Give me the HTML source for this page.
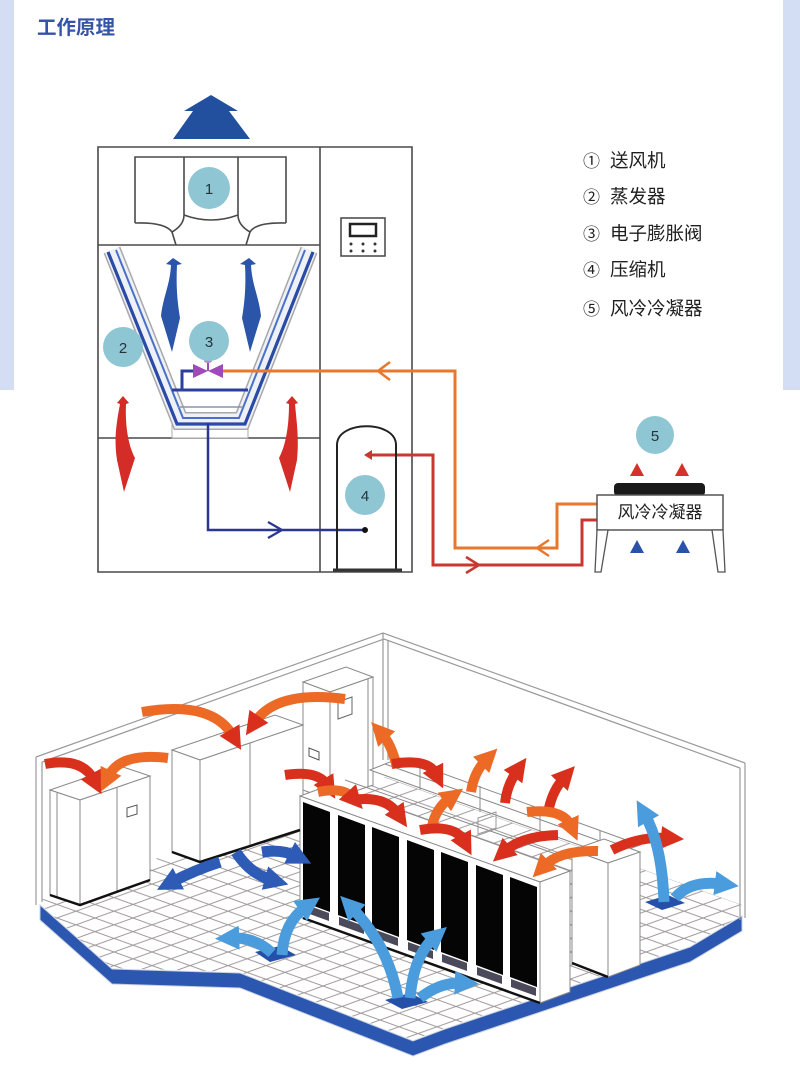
<!DOCTYPE html>
<html><head><meta charset="utf-8"><style>
html,body{margin:0;padding:0;background:#fff;}
body{width:800px;height:1077px;overflow:hidden;position:relative;}
svg{position:absolute;left:0;top:0;}
</style></head><body>
<svg width="800" height="1077" viewBox="0 0 800 1077" xmlns="http://www.w3.org/2000/svg">
<defs>
 <pattern id="grid" width="38" height="13.6" patternUnits="userSpaceOnUse">
   <path d="M0,0 L38,13.6 M0,13.6 L38,0" stroke="#9b9595" stroke-width="1" fill="none"/>
 </pattern>
 <marker id="hr" viewBox="0 0 10 10" refX="3" refY="5" markerWidth="2.3" markerHeight="2.3" orient="auto"><path d="M0,0 L10,5 L0,10 Z" fill="#d9301e"/></marker>
 <marker id="ho" viewBox="0 0 10 10" refX="3" refY="5" markerWidth="2.3" markerHeight="2.3" orient="auto"><path d="M0,0 L10,5 L0,10 Z" fill="#ec6a26"/></marker>
 <marker id="hl" viewBox="0 0 10 10" refX="3" refY="5" markerWidth="2.2" markerHeight="2.2" orient="auto"><path d="M0,0 L10,5 L0,10 Z" fill="#4b9cdc"/></marker>
 <marker id="hd" viewBox="0 0 10 10" refX="3" refY="5" markerWidth="2.2" markerHeight="2.2" orient="auto"><path d="M0,0 L10,5 L0,10 Z" fill="#2d5bb5"/></marker>
</defs>
<rect width="800" height="1077" fill="#fff"/>
<rect x="0" y="0" width="14" height="390" fill="#d3def4"/>
<rect x="783" y="0" width="17" height="390" fill="#d3def4"/>
<text x="37" y="34" font-family="'Liberation Sans','Noto Sans CJK SC',sans-serif" font-weight="bold" font-size="19.5" fill="#3554a6">工作原理</text>

<!-- top arrow -->
<polygon points="211,95 238,111 229,111 250,139 173,139 193,111 184,111" fill="#234f9f"/>

<!-- unit outline -->
<g stroke="#4a4a4a" stroke-width="1.6" fill="none">
 <path d="M98,147 H412 V572 H98 Z"/>
 <path d="M320,147 V572"/>
 <path d="M98,245 H320"/>
 <path d="M98,438 H320"/>
 <path d="M135,223 V157 H286 V223"/>
 <path d="M184,157 V215 M238,157 V215"/>
 <path d="M184,215 Q211,225 238,215"/>
 <path d="M135,223 Q165,222 172,232 L176,245"/>
 <path d="M184,215 Q184,225 172,232"/>
 <path d="M286,223 Q256,222 250,232 L246,245"/>
 <path d="M238,215 Q238,225 250,232"/>
</g>
<!-- controller -->
<rect x="341" y="218" width="44" height="38" fill="#fff" stroke="#444" stroke-width="1.5"/>
<rect x="350" y="224" width="26" height="12" fill="none" stroke="#222" stroke-width="2.5"/>
<g fill="#333"><circle cx="351" cy="244" r="1.5"/><circle cx="363" cy="244" r="1.5"/><circle cx="375" cy="244" r="1.5"/><circle cx="351" cy="251" r="1.5"/><circle cx="363" cy="251" r="1.5"/><circle cx="375" cy="251" r="1.5"/></g>

<!-- evaporator -->
<rect x="172" y="421" width="76" height="17" fill="#fff" stroke="#aaa" stroke-width="1"/>
<path d="M112,250 L180,421 L242,421 L309,250" fill="none" stroke="#a8a8a8" stroke-width="18"/>
<path d="M112,250 L180,421 L242,421 L309,250" fill="none" stroke="#eef2f7" stroke-width="15"/>
<path d="M108,252 L177,424 L245,424 L313,252" fill="none" stroke="#2a4aa5" stroke-width="3.2"/>
<path d="M116,250 L183,418 L239,418 L305,250" fill="none" stroke="#4a70c8" stroke-width="2"/>
<path d="M178,407 H243" stroke="#8a94b0" stroke-width="1.5"/>
<path d="M172,390 H248" stroke="#2c3f9f" stroke-width="3"/>
<path d="M200,371 H182 V390" fill="none" stroke="#2c3f9f" stroke-width="3"/>

<!-- pipes -->
<path d="M222,371 H455 V548 H557 V504 H597" fill="none" stroke="#e8782e" stroke-width="3"/>
<path d="M390,362 L378,371 L390,380" fill="none" stroke="#e8782e" stroke-width="2.5"/>
<path d="M549,540 L537,548 L549,556" fill="none" stroke="#e8782e" stroke-width="2.5"/>
<path d="M368,455 H433 V565 H582 V520 H597" fill="none" stroke="#c83830" stroke-width="3"/>
<path d="M466,557 L479,565 L466,573" fill="none" stroke="#c83830" stroke-width="2.5"/>
<polygon points="364,455 372,450 372,460" fill="#c83830"/>
<path d="M208,423 V530 H365" fill="none" stroke="#2b3592" stroke-width="2.5"/>
<path d="M268,522 L282,530 L268,538" fill="none" stroke="#2b3592" stroke-width="2.2"/>
<circle cx="365" cy="530" r="3" fill="#111"/>

<!-- valve -->
<polygon points="193,364 208,371 193,378" fill="#a04ab8"/>
<polygon points="223,364 208,371 223,378" fill="#a04ab8"/>
<line x1="208" y1="371" x2="208" y2="362" stroke="#a04ab8" stroke-width="2"/>
<ellipse cx="208" cy="361" rx="4" ry="2" fill="#b88ac8"/>

<!-- air arrows -->
<path d="M173,258 L166,264 L171,265 C170,285 163,297 161,316 L172,352 L180,318 C177,300 176,285 177,265 L182,264 Z" fill="#2a55a8"/>
<path d="M249,258 L256,264 L251,265 C252,285 259,297 261,316 L250,352 L242,318 C245,300 246,285 245,265 L240,264 Z" fill="#2a55a8"/>
<path d="M123,396 L117,403 L120,404 C116,425 114,440 117,460 L124,492 L135,458 C128,445 125,425 126,404 L129,403 Z" fill="#d42c26"/>
<path d="M292,396 L286,403 L289,404 C289,425 286,445 279,458 L290,492 L297,460 C299,440 297,425 295,404 L298,403 Z" fill="#d42c26"/>

<!-- compressor -->
<path d="M337,570 V445 C337,420 396,420 396,445 V570" fill="none" stroke="#222" stroke-width="2"/>
<line x1="333" y1="570" x2="402" y2="570" stroke="#333" stroke-width="3"/>

<!-- circles -->
<g fill="#8ec6d3">
 <circle cx="209" cy="188" r="21"/>
 <circle cx="123" cy="347" r="20"/>
 <circle cx="209" cy="341" r="20"/>
 <circle cx="365" cy="495" r="20"/>
 <circle cx="655" cy="435" r="19"/>
</g>
<g font-family="'Liberation Sans',sans-serif" font-size="15" fill="#24343a" text-anchor="middle">
 <text x="209" y="194">1</text>
 <text x="123" y="353">2</text>
 <text x="209" y="347">3</text>
 <text x="365" y="501">4</text>
 <text x="655" y="441">5</text>
</g>

<!-- condenser -->
<rect x="614" y="483" width="91" height="13" rx="4" fill="#1a1a1a"/>
<rect x="597" y="495" width="126" height="35" fill="#fff" stroke="#555" stroke-width="1.5"/>
<polygon points="597,530 608,530 601,572 595,572" fill="#fff" stroke="#555" stroke-width="1.3"/>
<polygon points="712,530 723,530 725,572 718,572" fill="#fff" stroke="#555" stroke-width="1.3"/>
<text x="660" y="518" text-anchor="middle" font-family="'Liberation Sans','Noto Sans CJK SC',sans-serif" font-size="17" fill="#222">风冷冷凝器</text>
<g fill="#d6302a">
 <polygon points="637,463 644,476 630,476"/><polygon points="682,463 689,476 675,476"/>
</g>
<g fill="#2a52a8">
 <polygon points="637,540 644,553 630,553"/><polygon points="683,540 690,553 676,553"/>
</g>

<!-- legend -->
<g font-family="'Liberation Sans','Noto Sans CJK SC',sans-serif" fill="#1f1f1f">
 <text x="583" y="167" font-size="17">①</text><text x="610" y="167" font-size="18.5">送风机</text>
 <text x="583" y="203" font-size="17">②</text><text x="610" y="203" font-size="18.5">蒸发器</text>
 <text x="583" y="240" font-size="17">③</text><text x="610" y="240" font-size="18.5">电子膨胀阀</text>
 <text x="583" y="276" font-size="17">④</text><text x="610" y="276" font-size="18.5">压缩机</text>
 <text x="583" y="315" font-size="17">⑤</text><text x="610" y="315" font-size="18.5">风冷冷凝器</text>
</g>

<!-- ================= ROOM ================= -->
<polygon points="40,900 385,777 742,905 742,915 690,946 445,1028 413,1040 240,972 112,968 40,904" fill="#fff"/>
<polygon points="40,900 385,777 742,905 742,915 690,946 445,1028 413,1040 240,972 112,968 40,904" fill="url(#grid)"/>
<polygon points="40,905 112,969 240,973 413,1041 445,1029 690,947 742,916 742,931 690,962 445,1044 413,1056 240,988 112,984 40,920" fill="#2b57b0" stroke="#c8d0e0" stroke-width="1"/>

<g stroke="#9a9a9a" stroke-width="1.2" fill="none">
 <path d="M36,757 L383,633 L745,763"/>
 <path d="M42,762 L384,639 L740,768"/>
 <path d="M36,757 V905 M42,762 V902"/>
 <path d="M383,633 V760 M388,640 V760"/>
 <path d="M745,763 V918 M740,768 V920"/>
</g>

<g fill="#fff" stroke="#8a8a8a" stroke-width="1">
 <!-- unit L -->
 <polygon points="50,790 120,766 150,776 80,800"/>
 <polygon points="50,790 80,800 80,905 50,895"/>
 <polygon points="80,800 150,776 150,880 80,905"/>
 <line x1="117" y1="788" x2="117" y2="893"/>
 <line x1="57" y1="793" x2="57" y2="897"/>
 <polygon points="127,808 137,805 137,814 127,817" fill="none" stroke="#555"/>
 <!-- unit 3 -->
 <polygon points="303,682 346,667 373,677 330,692"/>
 <polygon points="303,682 330,692 330,800 303,790"/>
 <polygon points="330,692 373,677 373,785 330,800"/>
 <line x1="368" y1="679" x2="368" y2="787"/>
 <polygon points="338,702 352,697 352,714 338,719" fill="none" stroke="#666"/>
 <polygon points="309,748 319,752 319,760 309,756" fill="none" stroke="#555"/>
 <!-- unit 2 -->
 <polygon points="172,750 275,715 303,725 200,760"/>
 <polygon points="172,750 200,760 200,862 172,852"/>
 <polygon points="200,760 303,725 303,830 200,862"/>
 <line x1="250" y1="743" x2="250" y2="846"/>
 <!-- back row / rack tops -->
 <polygon points="370,770 400,758 640,845 610,856"/>
 <polygon points="300,796 330,785 570,871 540,882"/>
 <line x1="345" y1="780" x2="590" y2="866"/>
 <line x1="385" y1="764" x2="625" y2="850"/>
 <line x1="420" y1="765" x2="420" y2="790"/>
 <line x1="480" y1="786" x2="480" y2="812"/>
 <line x1="540" y1="808" x2="540" y2="834"/>
 <line x1="600" y1="830" x2="600" y2="852"/>
 <polygon points="478,818 496,812 496,828 478,834" fill="none" stroke="#999"/>
 <!-- right unit -->
 <polygon points="572,850 604,839 640,852 608,863"/>
 <polygon points="572,850 608,863 608,977 572,963"/>
 <polygon points="608,863 640,852 640,965 608,977"/>
 <!-- rack front -->
 <polygon points="300,796 540,882 540,1003 300,917"/>
 <polygon points="540,882 570,871 570,992 540,1003"/>
</g>
<g stroke="#111" stroke-width="2.5" fill="none">
 <polyline points="50,895 80,905 150,880"/>
 <polyline points="172,852 200,862 300,830"/>
 <polyline points="572,963 608,977"/>
 <polyline points="303,918 540,1003"/>
</g>
<g fill="#050505">
 <polygon points="303,802 330,812 330,912 303,902"/>
 <polygon points="338,815 365,825 365,925 338,915"/>
 <polygon points="372,827 399,837 399,937 372,927"/>
 <polygon points="407,840 434,850 434,950 407,940"/>
 <polygon points="441,852 468,862 468,962 441,952"/>
 <polygon points="476,865 503,875 503,975 476,965"/>
 <polygon points="510,877 537,887 537,987 510,977"/>
</g>
<g fill="#4a4a5a">
 <polygon points="304,904 329,913 329,921 304,912"/>
 <polygon points="339,917 364,926 364,934 339,925"/>
 <polygon points="373,929 398,938 398,946 373,937"/>
 <polygon points="408,942 433,951 433,959 408,950"/>
 <polygon points="442,954 467,963 467,971 442,962"/>
 <polygon points="477,967 502,976 502,984 477,975"/>
 <polygon points="511,979 536,988 536,996 511,987"/>
</g>

<!-- floor vents -->
<g fill="#2450aa">
 <polygon points="255,952 280,946 296,955 270,962"/>
 <polygon points="385,1000 410,993 428,1002 402,1009"/>
 <polygon points="645,902 668,895 685,903 662,910"/>
</g>

<!-- red/orange arrows -->
<g fill="none" stroke-width="10" stroke-linecap="butt">
 <path d="M142,712 Q212,700 233,736" stroke="#ec6a26" marker-end="url(#hr)"/>
 <path d="M345,699 Q277,690 255,722" stroke="#ec6a26" marker-end="url(#hr)"/>
 <path d="M45,764 Q82,757 94,780" stroke="#d9301e" marker-end="url(#hr)"/>
 <path d="M168,758 Q120,752 108,777" stroke="#ec6a26" marker-end="url(#ho)"/>
 <path d="M397,768 Q392,745 382,734" stroke="#ec6a26" marker-end="url(#ho)"/>
 <path d="M392,764 Q428,758 436,774" stroke="#d9301e" marker-end="url(#hr)"/>
 <path d="M471,792 Q474,772 486,760" stroke="#ec6a26" marker-end="url(#ho)"/>
 <path d="M505,803 Q507,785 517,771" stroke="#d9301e" marker-end="url(#hr)"/>
 <path d="M549,808 Q553,790 564,778" stroke="#d9301e" marker-end="url(#hr)"/>
 <path d="M527,812 Q563,808 571,826" stroke="#ec6a26" marker-end="url(#ho)"/>
 <path d="M285,775 Q318,770 327,785" stroke="#d9301e" marker-end="url(#hr)"/>
 <path d="M318,792 Q343,787 352,797" stroke="#ec6a26" marker-end="url(#hr)"/>
 <path d="M352,800 Q385,795 398,814" stroke="#d9301e" marker-end="url(#hr)"/>
 <path d="M432,826 Q436,808 450,798" stroke="#ec6a26" marker-end="url(#ho)"/>
 <path d="M420,830 Q455,824 464,841" stroke="#d9301e" marker-end="url(#hr)"/>
 <path d="M558,835 Q522,836 505,851" stroke="#d9301e" marker-end="url(#hr)"/>
 <path d="M598,851 Q560,850 544,866" stroke="#ec6a26" marker-end="url(#ho)"/>
 <path d="M612,850 Q640,836 668,838" stroke="#d9301e" marker-end="url(#hr)"/>
</g>
<!-- blue arrows -->
<g fill="none" stroke-width="11">
 <path d="M664,902 Q662,845 645,815" stroke="#4b9cdc" marker-end="url(#hl)"/>
 <path d="M675,898 Q690,880 722,884" stroke="#4b9cdc" marker-end="url(#hl)"/>
 <path d="M220,862 Q195,870 172,882" stroke="#2d5bb5" marker-end="url(#hd)"/>
 <path d="M236,852 Q250,874 272,880" stroke="#2d5bb5" marker-end="url(#hd)"/>
 <path d="M262,852 Q282,849 296,856" stroke="#2d5bb5" marker-end="url(#hd)"/>
 <path d="M282,955 Q284,922 306,907" stroke="#4b9cdc" marker-end="url(#hl)"/>
 <path d="M272,953 Q255,937 232,938" stroke="#4b9cdc" marker-end="url(#hl)"/>
 <path d="M398,998 Q388,945 352,908" stroke="#4b9cdc" marker-end="url(#hl)"/>
 <path d="M410,998 Q414,955 434,938" stroke="#4b9cdc" marker-end="url(#hl)"/>
 <path d="M420,998 Q440,982 462,983" stroke="#4b9cdc" marker-end="url(#hl)"/>
</g>
</svg>
</body></html>
